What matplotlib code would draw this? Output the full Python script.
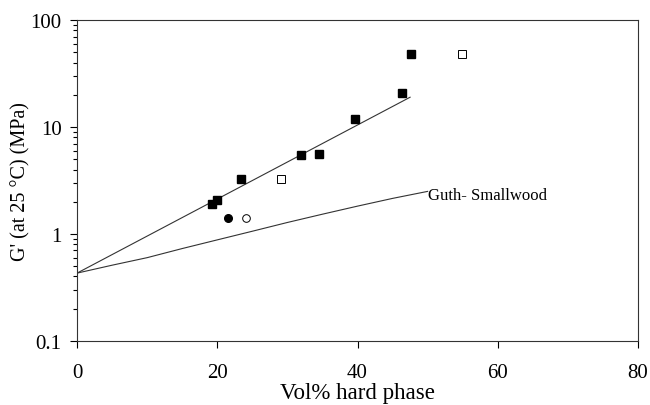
import numpy as np
import matplotlib.pyplot as plt
from matplotlib.ticker import LogLocator, NullFormatter, FixedFormatter

plt.rcParams['font.family'] = ['Liberation Serif', 'DejaVu Serif']

# filled squares
vol_filled_sq = [19.3, 20.0, 23.4, 31.9, 34.5, 39.7, 46.4, 47.6]
g_filled_sq = [1.91, 2.08, 3.27, 5.45, 5.6, 11.9, 20.8, 48.0]
# open squares
vol_open_sq = [29.1, 54.9]
g_open_sq = [3.27, 48.0]
# filled / open circles
vol_filled_c = [21.5]
g_filled_c = [1.42]
vol_open_c = [24.1]
g_open_c = [1.42]

# exponential fit line (end points)
vol_fit = [0, 47.5]
g_fit = [0.43, 19.0]

# Guth-Smallwood curve
vol_gs = [0, 5, 10, 15, 20, 25, 30, 35, 40, 45, 50]
g_gs = [0.43, 0.51, 0.60, 0.73, 0.88, 1.06, 1.28, 1.53, 1.82, 2.15, 2.5]

fig = plt.figure(figsize=(6.5, 4.06), dpi=100)
ax = fig.add_axes([0.1185, 0.158, 0.863, 0.79])

ax.plot(vol_fit, g_fit, color='#333333', lw=0.8)
ax.plot(vol_gs, g_gs, color='#333333', lw=0.8)

ax.plot(vol_filled_sq, g_filled_sq, 's', color='black', ms=6, ls='none')
ax.plot(vol_open_sq, g_open_sq, 's', mfc='white', mec='black', mew=0.7, ms=5.5, ls='none')
ax.plot(vol_filled_c, g_filled_c, 'o', color='black', ms=5.5, ls='none')
ax.plot(vol_open_c, g_open_c, 'o', mfc='white', mec='black', mew=0.7, ms=5.5, ls='none')

ax.text(50.0, 2.3, 'Guth- Smallwood', fontsize=12, va='center', ha='left')

ax.set_yscale('log')
ax.set_xlim(0, 80)
ax.set_ylim(0.1, 100)
ax.set_xticks([0, 20, 40, 60, 80])
ax.set_yticks([0.1, 1, 10, 100])
ax.yaxis.set_major_formatter(FixedFormatter(['0.1', '1', '10', '100']))
ax.yaxis.set_minor_locator(LogLocator(base=10, subs=np.arange(2, 10)))
ax.yaxis.set_minor_formatter(NullFormatter())

ax.tick_params(axis='both', which='major', direction='out', length=5, width=0.8,
               labelsize=15, colors='black')
ax.tick_params(axis='y', which='minor', direction='out', length=3, width=0.8)
ax.tick_params(axis='x', pad=11)
ax.tick_params(axis='y', pad=6)
for s in ax.spines.values():
    s.set_linewidth(0.8)
    s.set_color('#333333')

ax.set_xlabel('Vol% hard phase', fontsize=16.5, labelpad=0)
ax.set_ylabel("G' (at 25 \u00b0C) (MPa)", fontsize=14.5, labelpad=0)

fig.savefig('out.png', dpi=100)
